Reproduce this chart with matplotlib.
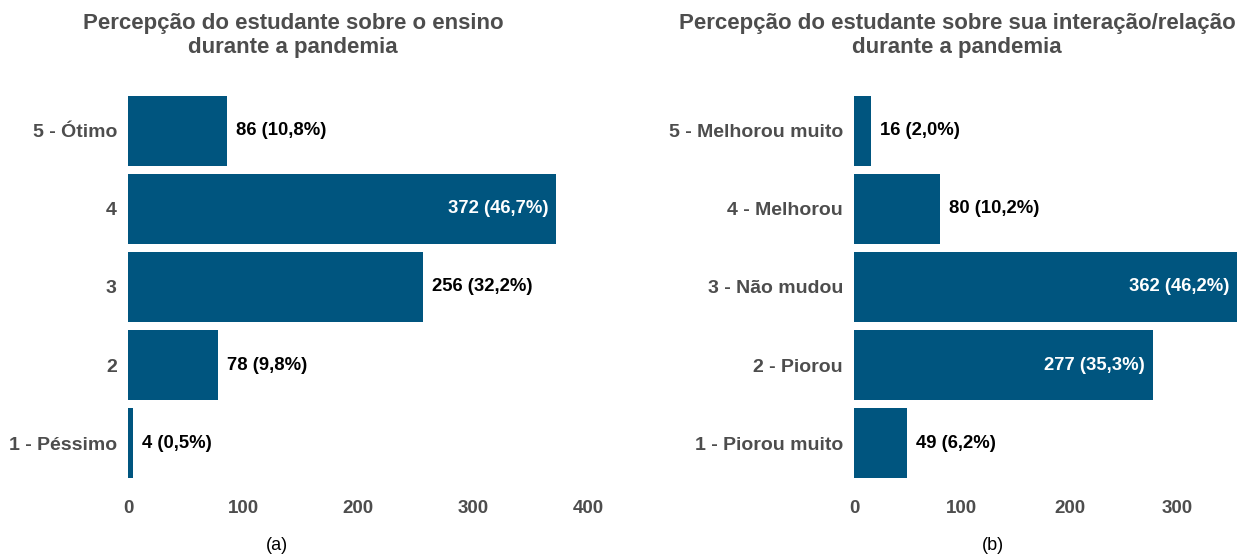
import numpy as np
import matplotlib.pyplot as plt

plt.rcParams['font.family'] = ['Liberation Sans', 'DejaVu Sans']

# painel (a)
cat_a = ['1 - Péssimo', '2', '3', '4', '5 - Ótimo']
val_a = [4, 78, 256, 372, 86]
pct_a = ['0,5', '9,8', '32,2', '46,7', '10,8']

# painel (b)
cat_b = ['1 - Piorou muito', '2 - Piorou', '3 - Não mudou', '4 - Melhorou', '5 - Melhorou muito']
val_b = [49, 277, 362, 80, 16]
pct_b = ['6,2', '35,3', '46,2', '10,2', '2,0']

cor = '#00557f'
cinza = '#4d4d4d'
W, H = 1242, 555

fig = plt.figure(figsize=(W / 100, H / 100), dpi=100)


def painel(x0, x1, cats, vals, pcts, xmax, ticks, titulo, cx, legenda, lx):
    ax = fig.add_axes([x0 / W, 1 - 490 / H, (x1 - x0) / W, (490 - 84) / H])
    y = np.arange(1, len(cats) + 1)
    ax.barh(y, vals, height=0.9, color=cor)
    ax.set_xlim(0, xmax)
    ax.set_ylim(0.4, len(cats) + 0.6)
    ax.set_yticks(y)
    ax.set_yticklabels(cats, fontsize=14, fontweight='bold', color=cinza)
    ax.set_xticks(ticks)
    ax.set_xticklabels([str(t) for t in ticks], fontsize=13.5, fontweight='bold', color=cinza)
    ax.tick_params(length=0, pad=8)
    ax.tick_params(axis='x', pad=7.5)
    for s in ax.spines.values():
        s.set_visible(False)
    px = xmax / (x1 - x0)
    m = max(vals)
    for yi, v, p in zip(y, vals, pcts):
        txt = f'{v} ({p}%)'
        if v > 0.74 * m:
            ax.text(min(v, xmax) - 8 * px, yi, txt, ha='right', va='center',
                    color='white', fontsize=13.3, fontweight='bold')
        else:
            ax.text(v + 9 * px, yi, txt, ha='left', va='center',
                    color='black', fontsize=13.3, fontweight='bold')
    for linha, yb in zip(titulo, [29, 53]):
        fig.text(cx / W, 1 - yb / H, linha, ha='center', va='baseline', fontsize=16,
                 fontweight='bold', color=cinza)
    fig.text(lx / W, 1 - 545 / H, legenda, ha='center', va='center', fontsize=13)
    return ax


painel(128, 600, cat_a, val_a, pct_a, 410, [0, 100, 200, 300, 400],
       ['Percepção do estudante sobre o ensino', 'durante a pandemia'], 293, '(a)', 277)
painel(854, 1237, cat_b, val_b, pct_b, 355, [0, 100, 200, 300],
       ['Percepção do estudante sobre sua interação/relação', 'durante a pandemia'], 957, '(b)', 993)

fig.savefig('out.png', dpi=100)
